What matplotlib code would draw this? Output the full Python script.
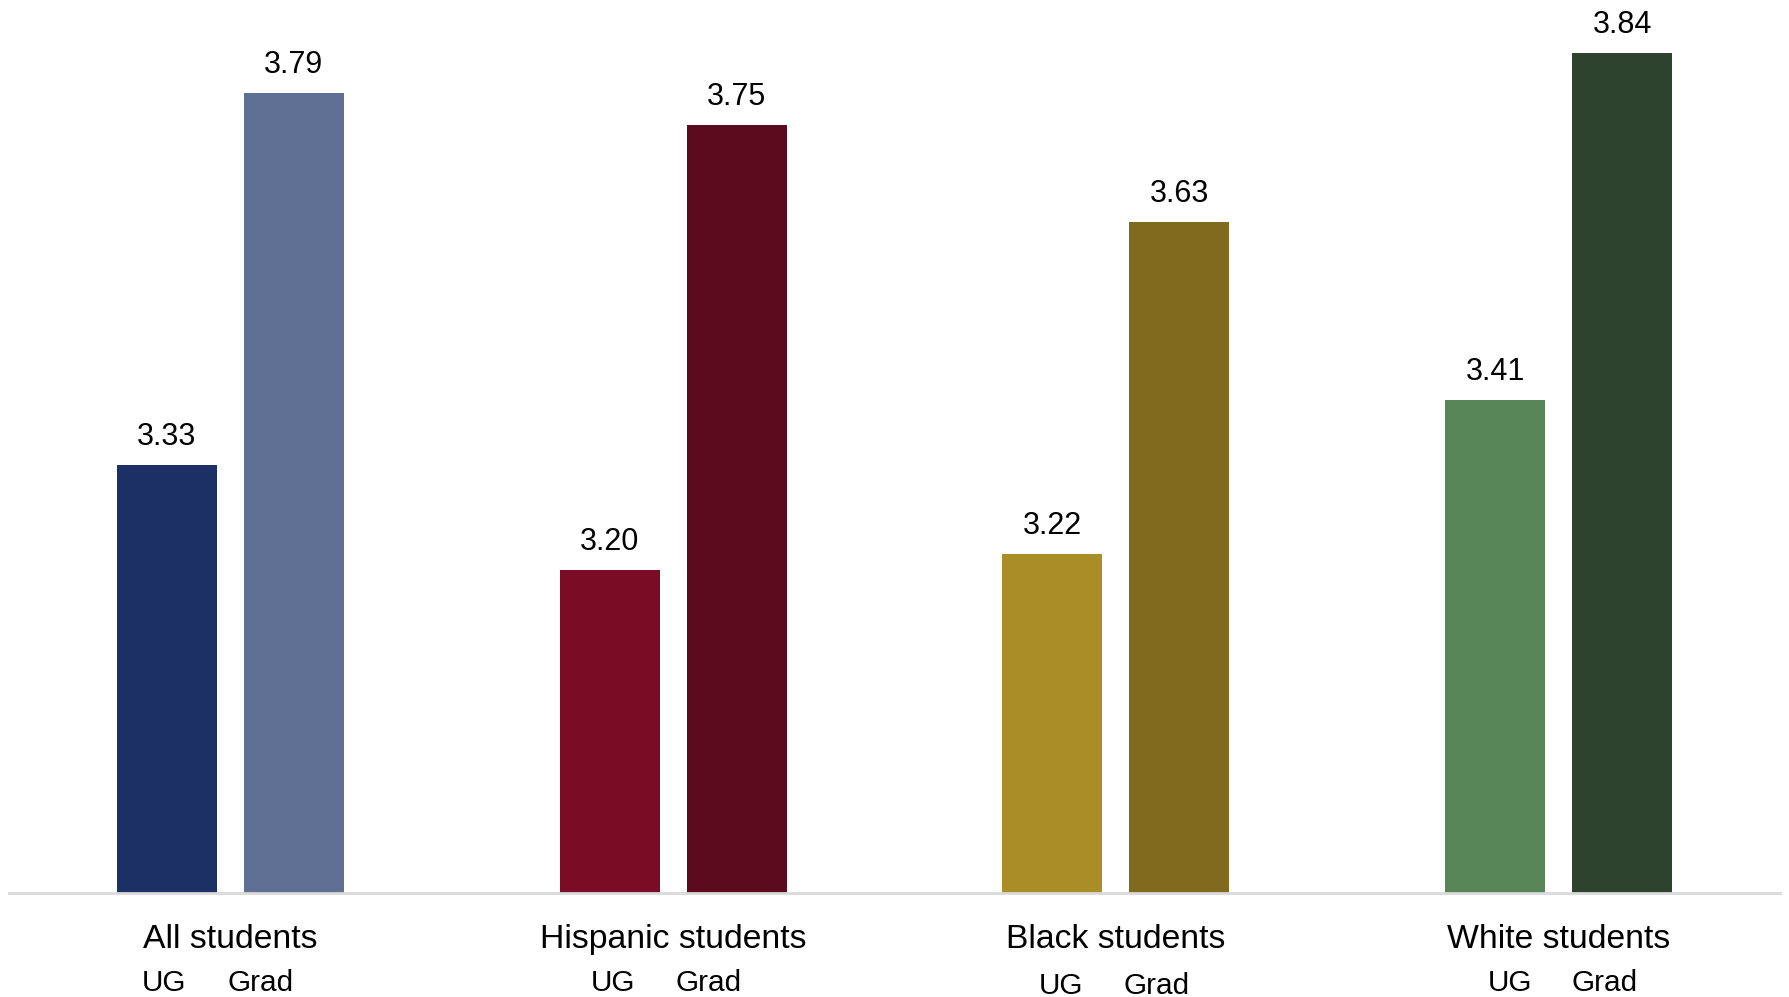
import matplotlib.pyplot as plt
import numpy as np

plt.rcParams['font.family'] = ['Liberation Sans', 'DejaVu Sans']

# Data
groups = ['All students', 'Hispanic students', 'Black students', 'White students']
ug_values = [3.33, 3.20, 3.22, 3.41]
grad_values = [3.79, 3.75, 3.63, 3.84]
ug_colors = ['#1c3066', '#7a0c25', '#a98e27', '#588557']
grad_colors = ['#5f7094', '#5c0a1e', '#7f6a1e', '#2e432e']

# sub-label offsets (data units) relative to group centre, per group
ug_offsets = [-0.149, -0.136, -0.123, -0.111]
grad_offsets = [0.068, 0.080, 0.091, 0.104]
sub_y = [-0.101, -0.101, -0.104, -0.101]

fig = plt.figure(figsize=(17.89, 9.97), dpi=100)
ax = fig.add_axes([0.005, 1 - 893 / 997, 0.99, 893 / 997])

x = np.arange(len(groups))
width = 0.2257
shift = 0.1433

bars_ug = ax.bar(x - shift, [v - 2.8 for v in ug_values], width, bottom=2.8, color=ug_colors)
bars_grad = ax.bar(x + shift, [v - 2.8 for v in grad_values], width, bottom=2.8, color=grad_colors)

for bars, vals in [(bars_ug, ug_values), (bars_grad, grad_values)]:
    for b, v in zip(bars, vals):
        ax.annotate(f'{v:.2f}', (b.get_x() + b.get_width() / 2, v),
                    xytext=(0, 20), textcoords='offset pixels',
                    ha='center', va='baseline', fontsize=22)

ax.set_xlim(-0.5, 3.5)
ax.set_ylim(2.8, 2.8 + 893 / 808)

for s in ['top', 'right', 'left']:
    ax.spines[s].set_visible(False)
ax.spines['bottom'].set_color('#d9d9d9')
ax.spines['bottom'].set_linewidth(2)
ax.set_yticks([])
ax.set_xticks([])

trans = ax.get_xaxis_transform()
for i, g in enumerate(groups):
    ax.text(i, -0.0525, g, transform=trans, ha='center', va='center', fontsize=24.3)
    ax.text(i + ug_offsets[i], sub_y[i], 'UG', transform=trans, ha='center', va='center', fontsize=21.4)
    ax.text(i + grad_offsets[i], sub_y[i], 'Grad', transform=trans, ha='center', va='center', fontsize=21.4)

fig.savefig('out.png', dpi=100, facecolor='white')
